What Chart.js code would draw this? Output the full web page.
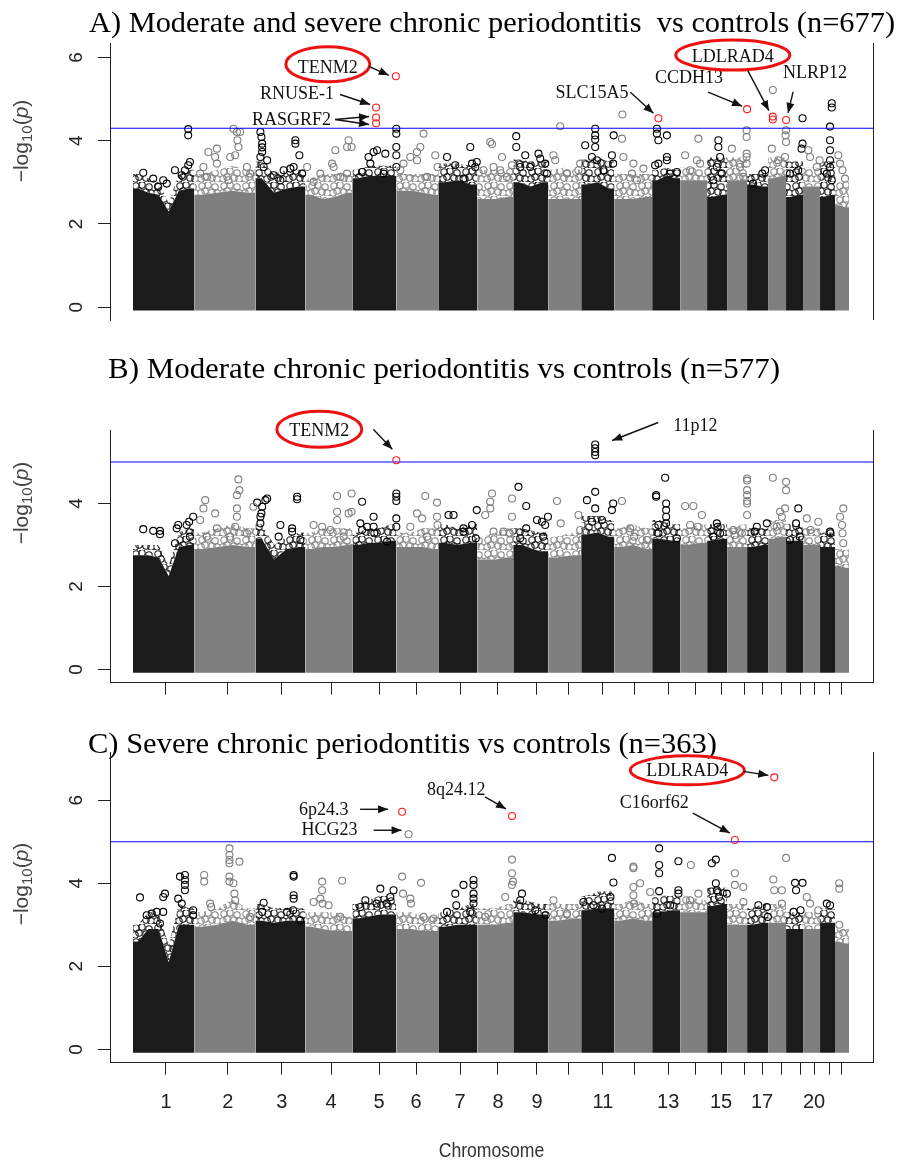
<!DOCTYPE html>
<html>
<head>
<meta charset="utf-8">
<script src="https://cdn.jsdelivr.net/npm/chart.js@4.4.1/dist/chart.umd.min.js"></script>
<style>
  html, body { margin: 0; padding: 0; background: #fff; width: 900px; height: 1161px; overflow: hidden; }
  canvas { position: absolute; left: 0; }
</style>
</head>
<body>
<canvas id="pA" width="900" height="340" style="top:0px"></canvas>
<canvas id="pB" width="900" height="360" style="top:340px"></canvas>
<canvas id="pC" width="900" height="461" style="top:700px"></canvas>
<script>
// chromosome layout (Mb spanned by SNPs) and x-axis ticks
const chromosomes = ['1','2','3','4','5','6','7','8','9','10','11','12','13','14','15','16','17','18','19','20','21','22'];
const chrSpan = [245,245,200,188,176,168,156,144,140,132,132,152,112,108,80,80,84,72,68,68,60,56];
const tickMb = [132,380,596,793,985,1133,1309,1461,1617,1745,1881,2009,2142,2250,2354,2446,2518,2594,2670,2726,2786,2834];
const tickLabels = ['1','2','3','4','5','6','7','8','9','','11','','13','','15','','17','','','20','',''];

const titles = [
  'A) Moderate and severe chronic periodontitis  vs controls (n=677)',
  'B) Moderate chronic periodontitis vs controls (n=577)',
  'C) Severe chronic periodontitis vs controls (n=363)'
];
const thresholds = [4.3, 5, 5];

// top of the solid mass of SNPs, per chromosome (-log10 p), left to right
const solidA = [[2.85,2.75,2.7,2.3,2.8,2.85],[2.7,2.75,2.8,2.75],[3.1,2.75,2.85,2.9],[2.7,2.6,2.65,2.75],
  [3.1,3.15,3.15,3.15],[2.8,2.8,2.75,2.7],[3.0,3.05,2.95],[2.6,2.6,2.65],[3.0,2.9,3.0],[2.6,2.6,2.6],
  [2.95,3.0,2.85],[2.6,2.6,2.65],[3.05,3.15,3.1],[3.05,3.05],[2.65,2.7],[3.05,3.05],[2.95,2.9],
  [3.1,3.15],[2.65,2.7],[2.9,2.9],[2.65,2.7],[2.45,2.4]];
const solidB = [[2.75,2.75,2.7,2.25,2.95,3.0],[2.9,2.95,3.0,2.95],[3.15,2.65,2.9,2.95],[2.9,2.95,2.95,3.0],
  [3.0,3.05,3.05,3.1],[2.95,2.95,2.95,2.9],[3.05,3.0,3.05],[2.65,2.65,2.7],[3.0,2.85],[2.7,2.75],
  [3.25,3.3,3.2],[2.95,3.0,2.9],[3.15,3.1],[3.0,3.05],[3.1,3.15],[2.95,2.95],[2.95,3.0],
  [3.15,3.2],[3.1,3.1],[3.0,3.0],[2.95,2.95],[2.5,2.45]];
const solidC = [[2.6,2.9,2.9,2.1,3.0,3.0],[2.95,3.0,3.1,3.0],[3.1,3.05,3.1,3.1],[2.95,2.9,2.85,2.85],
  [3.15,3.2,3.25,3.25],[2.9,2.9,2.85,2.85],[2.95,3.0,3.0],[3.0,3.0,3.05],[3.3,3.25],[3.1,3.15],
  [3.35,3.4,3.4],[3.1,3.15,3.1],[3.3,3.35],[3.3,3.3],[3.45,3.5],[3.0,3.0],[3.0,3.05],
  [3.05,3.05],[2.9,2.9],[2.9,2.9],[3.05,3.05],[2.6,2.55]];

// upper edge of the band of overlapping circles above the solid mass
const fringeA = [[3.2,3.1,3.0,2.5,3.2,3.3],[3.2,3.3,3.4,3.3],[3.5,3.2,3.3,3.3],[3.1,3.2,3.2,3.2],
  [3.3,3.4,3.4,3.4],[3.2,3.2,3.2,3.2],[3.45,3.45,3.4],[3.3,3.3,3.35],[3.55,3.5,3.5],[3.3,3.35,3.3],
  [3.55,3.6,3.5],[3.2,3.2,3.2],[3.3,3.35,3.3],[3.35,3.35],[3.6,3.6],[3.6,3.6],[3.2,3.2],
  [3.6,3.6],[3.5,3.5],[3.35,3.35],[3.5,3.5],[3.0,3.0]];
const fringeB = [[3.0,3.0,3.0,2.5,3.3,3.4],[3.3,3.4,3.5,3.4],[3.5,3.0,3.2,3.3],[3.3,3.4,3.4,3.4],
  [3.3,3.4,3.4,3.5],[3.3,3.3,3.4,3.4],[3.5,3.4,3.5],[3.2,3.3,3.4],[3.4,3.3],[3.2,3.3],
  [3.7,3.7,3.6],[3.4,3.5,3.4],[3.6,3.5],[3.4,3.5],[3.5,3.5],[3.4,3.5],[3.4,3.4],
  [3.6,3.6],[3.5,3.5],[3.4,3.4],[3.3,3.3],[2.9,2.9]];
const fringeC = [[3.0,3.3,3.3,2.5,3.5,3.4],[3.3,3.4,3.6,3.4],[3.5,3.4,3.4,3.4],[3.3,3.3,3.3,3.2],
  [3.5,3.6,3.7,3.7],[3.3,3.3,3.2,3.2],[3.3,3.4,3.5],[3.4,3.4,3.5],[3.6,3.5],[3.5,3.5],
  [3.7,3.8,3.8],[3.5,3.6,3.5],[3.7,3.7],[3.7,3.6],[3.9,3.9],[3.5,3.5],[3.4,3.5],
  [3.5,3.5],[3.3,3.3],[3.3,3.3],[3.4,3.4],[2.9,2.9]];

// single SNPs above the mass: [chromosome, position in chromosome (Mb), -log10 p]
const ptsA = [
  [1,41,3.23],[1,81,3.09],[1,101,2.89],[1,121,3.05],[1,135,2.97],[1,168,3.29],[1,195,3.17],[1,208,3.29],[1,221,3.41],[1,228,3.49],[1,221,4.13],[1,221,4.28],
  [2,24,3.21],[2,37,3.37],[2,51,3.13],[2,57,3.73],[2,84,3.61],[2,91,3.81],[2,91,3.45],[2,137,3.05],[2,144,3.61],[2,157,4.29],[2,164,3.65],[2,171,4.21],[2,173,4.01],[2,177,3.85],[2,184,4.21],[2,211,3.37],[2,224,3.21],
  [3,20,4.21],[3,24,4.09],[3,27,3.93],[3,27,3.84],[3,27,3.73],[3,20,3.61],[3,47,3.53],[3,33,3.37],[3,73,3.17],[3,100,3.05],[3,113,3.29],[3,140,3.33],[3,153,3.37],[3,160,4.01],[3,160,3.93],[3,176,3.65],[3,187,3.21],
  [4,7,3.37],[4,33,3.01],[4,60,3.21],[4,107,3.45],[4,113,3.37],[4,120,3.77],[4,140,3.13],[4,167,3.85],[4,167,3.21],[4,173,4.01],[4,185,3.85],
  [5,39,3.25],[5,65,3.61],[5,72,3.45],[5,85,3.73],[5,99,3.77],[5,125,3.21],[5,132,3.69],[5,176,4.29],[5,176,4.17],[5,176,3.85],[5,176,3.65],[5,176,3.37],
  [6,16,3.29],[6,29,3.45],[6,56,3.61],[6,83,3.73],[6,83,3.53],[6,96,3.85],[6,109,4.17],[6,123,3.13],[6,156,3.65],[6,165,3.37],
  [7,35,3.61],[7,68,3.41],[7,101,3.09],[7,128,3.85],[7,135,3.45],[7,148,3.37],[7,154,3.49],
  [8,25,3.29],[8,52,3.97],[8,59,3.92],[8,65,3.37],[8,92,3.29],[8,99,3.61],[8,119,3.13],[8,139,3.41],
  [9,12,4.11],[9,12,3.85],[9,28,3.37],[9,48,3.65],[9,68,3.37],[9,101,3.69],[9,108,3.57],[9,128,3.45],[9,135,3.21],
  [10,21,3.65],[10,28,3.53],[10,48,4.35],[10,75,3.21],[10,121,3.29],[10,128,3.45],
  [11,16,3.89],[11,43,3.61],[11,56,4.29],[11,56,4.13],[11,56,4.03],[11,56,3.85],[11,63,3.53],[11,89,3.29],[11,123,3.65],[11,128,3.45],[11,130,4.13],
  [12,31,4.05],[12,33,4.63],[12,37,3.61],[12,71,3.21],[12,77,3.45],[12,91,3.05],[12,117,3.33],
  [13,12,3.41],[13,19,4.29],[13,19,4.17],[13,25,4.01],[13,25,3.45],[13,59,4.13],[13,59,3.61],[13,59,3.53],[13,72,3.21],[13,99,3.25],
  [14,20,3.65],[14,40,3.29],[14,67,3.53],[14,73,4.05],[14,80,3.45],
  [15,25,3.05],[15,39,3.37],[15,45,4.01],[15,45,3.85],[15,52,3.61],[15,59,3.21],
  [16,19,3.81],[16,52,3.37],[16,65,3.13],[16,78,4.25],[16,78,4.09],[16,78,3.69],[16,78,3.61],[16,78,3.45],
  [17,24,2.97],[17,61,3.21],[17,72,3.29],
  [18,15,3.81],[18,19,5.22],[18,41,3.53],[18,68,3.61],[18,72,4.25],[18,72,3.97],[18,70,4.13],
  [19,16,3.21],[19,49,3.29],[19,62,3.81],[19,66,4.54],[19,66,3.93],
  [20,21,3.77],[20,28,3.61],[20,55,3.37],[20,66,3.53],
  [21,27,3.21],[21,40,4.34],[21,40,4.01],[21,40,3.77],[21,40,3.53],[21,40,3.37],[21,47,4.90],[21,47,4.80],[21,47,3.05],
  [22,13,3.65],[22,20,3.45],[22,30,3.29],[22,40,3.09]
];
const ptsB = [
  [1,41,3.38],[1,81,3.34],[1,108,3.34],[1,108,3.26],[1,168,3.04],[1,175,3.40],[1,181,3.48],[1,215,3.48],[1,225,3.56],[1,228,3.20],[1,241,3.68],
  [2,24,3.60],[2,37,3.88],[2,44,4.08],[2,50,3.20],[2,84,3.76],[2,91,3.40],[2,144,3.20],[2,164,3.44],[2,171,3.88],[2,171,4.20],[2,171,3.68],[2,177,4.58],[2,181,4.32],[2,211,3.28],[2,237,3.92],
  [3,7,4.02],[3,20,3.68],[3,20,3.52],[3,24,3.76],[3,27,3.92],[3,40,4.08],[3,47,4.12],[3,93,3.20],[3,100,3.48],[3,147,3.40],[3,147,3.32],[3,167,4.16],[3,167,4.10],[3,180,3.12],
  [4,33,3.48],[4,67,3.44],[4,100,3.36],[4,127,4.18],[4,127,3.80],[4,127,3.60],[4,153,3.20],[4,173,3.76],[4,185,4.24],[4,185,3.80],
  [5,32,3.52],[5,39,4.04],[5,39,3.36],[5,59,3.44],[5,85,3.68],[5,85,3.44],[5,88,3.28],[5,139,3.08],[5,176,4.24],[5,176,4.16],[5,176,4.06],[5,176,3.64],[5,176,3.44],
  [6,56,3.44],[6,83,3.76],[6,103,3.64],[6,116,4.18],[6,123,3.20],[6,163,4.02],[6,163,3.68],[6,165,3.48],
  [7,41,3.72],[7,61,3.72],[7,101,3.40],[7,101,3.32],[7,135,3.48],[7,150,3.16],[7,154,3.84],
  [8,32,3.72],[8,52,4.04],[8,52,3.88],[8,59,4.24],[8,65,3.32],[8,105,3.32],[8,130,3.28],[8,139,4.12],[8,139,3.68],
  [9,21,4.40],[9,28,3.16],[9,52,3.94],[9,52,3.40],[9,95,3.60],[9,115,3.56],[9,120,3.20],[9,128,3.48],[9,139,3.68],
  [10,35,4.06],[10,50,3.52],[10,121,3.72],[10,128,3.36],
  [11,23,4.08],[11,43,3.56],[11,56,4.28],[11,56,3.88],[11,56,5.16],[11,56,5.24],[11,56,5.33],[11,56,5.42],[11,83,3.60],[11,123,3.84],[11,128,4.00],
  [12,31,4.06],[12,64,3.40],[12,80,3.20],[12,131,3.12],
  [13,16,4.20],[13,16,4.16],[13,25,3.48],[13,25,3.28],[13,52,4.62],[13,56,4.00],[13,56,3.84],[13,56,3.68],[13,56,3.52],[13,99,3.16],
  [14,20,3.94],[14,40,3.48],[14,53,3.94],[14,70,3.44],[14,87,3.72],
  [15,25,3.20],[15,39,3.52],[15,42,3.44],[15,52,3.28],
  [16,25,3.36],[16,30,3.24],[16,59,3.28],[16,80,4.60],[16,80,4.55],[16,80,4.32],[16,80,4.20],[16,80,4.06],[16,80,4.00],[16,80,3.72],
  [17,30,3.32],[17,39,3.44],[17,79,3.52],
  [18,19,4.62],[18,35,3.44],[18,48,3.80],[18,55,3.68],[18,68,3.88],[18,72,4.52],[18,72,4.32],
  [19,16,3.12],[19,40,3.52],[19,49,3.88],[19,55,3.20],
  [20,15,3.64],[20,30,3.36],[20,61,3.56],
  [21,40,3.32],[21,42,3.28],
  [22,20,3.68],[22,28,3.48],[22,33,3.88],[22,30,3.28],[22,33,3.04]
];
const ptsC = [
  [1,28,3.66],[1,55,3.23],[1,75,3.27],[1,95,3.31],[1,108,3.03],[1,121,3.31],[1,121,3.67],[1,128,3.75],[1,181,3.63],[1,188,4.16],[1,195,3.51],[1,208,4.20],[1,208,4.08],[1,208,3.96],[1,208,3.83],[1,241,3.35],[1,241,3.23],
  [2,40,4.20],[2,40,4.04],[2,64,3.51],[2,68,3.43],[2,141,4.84],[2,141,4.68],[2,141,4.56],[2,141,4.48],[2,141,4.16],[2,141,4.04],[2,157,4.00],[2,161,3.75],[2,164,3.59],[2,181,4.52],[2,224,3.19],
  [3,27,3.31],[3,33,3.53],[3,127,3.31],[3,153,4.20],[3,153,4.16],[3,153,3.71],[3,153,3.63],[3,151,3.35],[3,180,3.11],
  [4,33,3.55],[4,60,3.63],[4,67,4.04],[4,67,3.83],[4,69,3.51],[4,93,3.47],[4,140,3.19],[4,147,4.06],
  [5,32,3.43],[5,52,3.59],[5,97,3.51],[5,112,3.87],[5,137,3.51],[5,152,3.67],[5,165,3.83],
  [6,23,4.16],[6,27,3.75],[6,49,5.18],[6,56,3.63],[6,59,3.51],[6,99,4.01],[6,109,3.19],[6,149,3.15],
  [7,35,3.31],[7,68,3.75],[7,72,3.47],[7,101,3.96],[7,128,3.31],[7,141,4.08],[7,141,3.96],[7,141,3.75],[7,141,3.63],[7,141,3.51],
  [8,32,3.19],[8,112,3.67],[8,139,4.57],[8,139,4.24],[8,139,3.96],[8,143,4.04],
  [9,28,3.59],[9,35,3.75],[9,88,3.35],[9,130,3.23],
  [10,21,3.59],[10,75,3.27],
  [11,9,3.55],[11,49,3.47],[11,83,3.39],[11,117,3.67],[11,123,4.61],[11,129,4.02],
  [12,77,4.40],[12,77,4.36],[12,77,3.91],[12,77,3.71],[12,80,3.51],[12,104,4.00],[12,144,3.79],
  [13,20,3.27],[13,28,4.84],[13,28,4.44],[13,28,4.24],[13,28,3.81],[13,72,3.47],[13,105,4.53],[13,105,3.83],[13,105,3.75],
  [14,40,3.59],[14,43,4.44],[14,73,3.75],
  [15,19,4.48],[15,35,4.57],[15,35,4.00],[15,39,3.83],[15,48,3.67],[15,79,3.75],
  [16,31,4.24],[16,31,3.96],[16,65,3.91],[16,65,3.55],
  [17,45,3.47],[17,79,3.43],[17,83,3.19],
  [18,21,4.09],[18,25,3.83],[18,55,3.83],[18,55,3.51],[18,72,4.61],
  [19,30,3.31],[19,36,4.01],[19,40,3.83],[19,58,3.35],[19,66,4.01],
  [20,15,3.67],[20,28,3.51],[20,61,3.35],
  [21,27,3.51],[21,40,3.47],
  [22,17,4.00],[22,17,3.87],[22,17,3.0]
];

// highlighted SNPs (red circles)
const hitsA = [[5,174,5.55],[5,95,4.80],[5,95,4.56],[5,95,4.42],[13,25,4.54],[16,80,4.76],[18,19,4.58],[18,19,4.51],[19,0,4.50]];
const hitsB = [[5,176,5.04]];
const hitsC = [[6,23,5.72],[8,139,5.62],[16,31,5.04],[18,25,6.55]];

const X_MIN = -92, X_MAX = 2962;
const BLACK = '#1b1b1b', GRAY = '#7f7f7f';

const chrStart = [];
{ let s = 0; chrSpan.forEach(w => { chrStart.push(s); s += w; }); }
const toXY = p => ({ x: chrStart[p[0] - 1] + p[1], y: p[2] });

function profile(t, i) {
  const s = chrStart[i], w = chrSpan[i], n = t.length;
  const pts = [{ x: s, y: t[0] }];
  t.forEach((v, k) => pts.push({ x: s + w * (k + 0.5) / n, y: v }));
  pts.push({ x: s + w, y: t[n - 1] });
  return pts;
}

// texture of overlapping open circles, used for the ragged band above the solid mass
function ringPattern(color) {
  const c = document.createElement('canvas'); c.width = 22; c.height = 14;
  const g = c.getContext('2d'); g.strokeStyle = color; g.lineWidth = 1.1;
  [[4, 4], [10, 3], [17, 5], [7, 9], [14, 10], [19, 11], [3, 11]].forEach(([x, y]) => {
    g.beginPath(); g.arc(x, y, 3.2, 0, Math.PI * 2); g.stroke();
  });
  return g.createPattern(c, 'repeat');
}

function makeDatasets(p) {
  const ds = [];
  const patB = ringPattern('#1b1b1b'), patG = ringPattern('#858585');
  p.solid.forEach((t, i) => {
    ds.push({ type: 'line', data: profile(t, i), backgroundColor: i % 2 ? GRAY : BLACK, borderColor: 'transparent',
      borderWidth: 0, pointRadius: 0, fill: { value: -0.08 }, order: 6 });
    ds.push({ type: 'line', data: profile(p.fringe[i], i), backgroundColor: i % 2 ? patG : patB, borderColor: 'transparent',
      borderWidth: 0, pointRadius: 0, fill: '-1', order: 6 });
  });
  const circ = (data, color, order) => ({
    data, showLine: false, pointStyle: 'circle', pointRadius: 3.5, pointBorderWidth: 1.1,
    pointBorderColor: color, pointBackgroundColor: 'rgba(0,0,0,0)', order
  });
  ds.push(circ(p.pts.filter(q => q[0] % 2 === 1).map(toXY), '#000', 4));
  ds.push(circ(p.pts.filter(q => q[0] % 2 === 0).map(toXY), '#808080', 3));
  ds.push({ type: 'line', data: [{ x: X_MIN, y: p.thr }, { x: X_MAX, y: p.thr }],
    borderColor: '#0000ff', borderWidth: 1.1, pointRadius: 0, fill: false, order: 2 });
  ds.push(circ(p.hits.map(toXY), '#ff1a1a', 1));
  return ds;
}

function arrow(ctx, x1, y1, x2, y2) {
  ctx.beginPath(); ctx.moveTo(x1, y1); ctx.lineTo(x2, y2); ctx.stroke();
  const a = Math.atan2(y2 - y1, x2 - x1), L = 10, W = 4;
  ctx.beginPath(); ctx.moveTo(x2, y2);
  ctx.lineTo(x2 - L * Math.cos(a) + W * Math.sin(a), y2 - L * Math.sin(a) - W * Math.cos(a));
  ctx.lineTo(x2 - L * Math.cos(a) - W * Math.sin(a), y2 - L * Math.sin(a) + W * Math.cos(a));
  ctx.closePath(); ctx.fill();
}

function fitText(ctx, s, x, y, w) {
  const m = ctx.measureText(s).width;
  ctx.save(); ctx.translate(x, y); ctx.scale(w / m, 1); ctx.fillText(s, 0, 0); ctx.restore();
}

function yTitle(ctx, cx, cy) {
  ctx.save(); ctx.translate(cx, cy); ctx.rotate(-Math.PI / 2);
  ctx.fillStyle = '#444'; ctx.textAlign = 'left'; ctx.textBaseline = 'alphabetic';
  const f1 = '21px "Liberation Sans"', f2 = '15px "Liberation Sans"', f3 = 'italic 21px "Liberation Sans"';
  const parts = [['\u2212log', f1, 0], ['10', f2, 4], ['(', f1, 0], ['p', f3, 0], [')', f1, 0]];
  let w = 0;
  parts.forEach(q => { ctx.font = q[1]; w += ctx.measureText(q[0]).width; });
  let x = -w / 2;
  parts.forEach(q => { ctx.font = q[1]; ctx.fillText(q[0], x, 6 + q[2]); x += ctx.measureText(q[0]).width; });
  ctx.restore();
}

function makeDecor(p) {
  return {
    id: 'decor',
    afterDraw(chart) {
      const ctx = chart.ctx, ca = chart.chartArea, xs = chart.scales.x, ys = chart.scales.y;
      ctx.save();
      // right frame line
      ctx.strokeStyle = '#222'; ctx.lineWidth = 1;
      ctx.beginPath(); ctx.moveTo(ca.right + 0.5, ca.top); ctx.lineTo(ca.right + 0.5, ca.bottom); ctx.stroke();
      // title
      ctx.fillStyle = '#000'; ctx.font = '29px "Liberation Serif"'; ctx.textBaseline = 'alphabetic'; ctx.textAlign = 'left';
      fitText(ctx, p.title, p.titlePos[0], p.titlePos[1], p.titlePos[2]);
      // y tick labels (rotated, R style)
      ctx.fillStyle = '#222'; ctx.font = '19px "Liberation Sans"'; ctx.textAlign = 'center';
      ys.ticks.forEach(t => {
        const py = ys.getPixelForValue(t.value);
        ctx.save(); ctx.translate(75, py); ctx.rotate(-Math.PI / 2); ctx.fillText(String(t.value), 0, 7); ctx.restore();
      });
      yTitle(ctx, 22, p.yTitleY);
      // x tick labels + axis title
      if (p.xLabels) {
        ctx.fillStyle = '#222'; ctx.font = '20px "Liberation Sans"'; ctx.textAlign = 'center';
        tickMb.forEach((v, i) => {
          if (tickLabels[i]) ctx.fillText(tickLabels[i], xs.getPixelForValue(v), ca.bottom + 45.5);
        });
        ctx.fillStyle = '#333'; ctx.font = '20px "Liberation Sans"';
        ctx.save(); ctx.translate((ca.left + ca.right) / 2, ca.bottom + 94); ctx.scale(0.88, 1);
        ctx.fillText('Chromosome', 0, 0); ctx.restore();
      }
      // annotations
      ctx.font = '18px "Liberation Serif"'; ctx.textBaseline = 'alphabetic';
      p.notes.forEach(n => {
        const q = toXY(n.at);
        const px = xs.getPixelForValue(q.x), py = ys.getPixelForValue(q.y);
        if (n.ell) {
          ctx.strokeStyle = '#ee1111'; ctx.lineWidth = 3;
          ctx.beginPath(); ctx.ellipse(px + n.ell[0], py + n.ell[1], n.ell[2], n.ell[3], 0, 0, Math.PI * 2); ctx.stroke();
        }
        ctx.fillStyle = '#111'; ctx.textAlign = n.t[2];
        ctx.fillText(n.label, px + n.t[0], py + n.t[1]);
        ctx.strokeStyle = '#111'; ctx.lineWidth = 1.4;
        n.arr.forEach(a => arrow(ctx, px + a[0], py + a[1], px + a[2], py + a[3]));
      });
      ctx.restore();
    }
  };
}

const notesA = [
  { label: 'TENM2', at: hitsA[0], t: [-68, -3.3, 'center'], ell: [-68, -12, 42, 17.5], arr: [[-27, -10, -7, -1]] },
  { label: 'RNUSE-1', at: hitsA[1], t: [-116, -8, 'left'], arr: [[-36, -13, -6, -3]] },
  { label: 'RASGRF2', at: hitsA[2], t: [-124, 8, 'left'], arr: [[-41, 2, -7, -1], [-41, 2, -7, 7]] },
  { label: 'SLC15A5', at: hitsA[4], t: [-103, -20, 'left'], arr: [[-28, -26, -5, -5]] },
  { label: 'CCDH13', at: hitsA[5], t: [-92, -26, 'left'], arr: [[-39, -17, -5, -3]] },
  { label: 'LDLRAD4', at: hitsA[6], t: [-40, -54.5, 'center'], ell: [-40, -61.5, 57, 15], arr: [[-25, -46, -4, -6]] },
  { label: 'NLRP12', at: hitsA[8], t: [-3, -42, 'left'], arr: [[7, -28, 2, -7]] }
];
const notesB = [
  { label: 'TENM2', at: hitsB[0], t: [-77, -24, 'center'], ell: [-77, -31, 42.5, 18], arr: [[-23, -31, -4, -11]] },
  { label: '11p12', at: [11, 56, 5.42], t: [78, -14, 'left'], arr: [[63, -22, 17, -4]] }
];
const notesC = [
  { label: '6p24.3', at: hitsC[0], t: [-103, 3.5, 'left'], arr: [[-42, -2.5, -14, -2.5]] },
  { label: 'HCG23', at: [6, 49, 5.18], t: [-107, 1, 'left'], arr: [[-35, -4, -7, -4]] },
  { label: '8q24.12', at: hitsC[1], t: [-85, -21, 'left'], arr: [[-27, -19, -6, -7]] },
  { label: 'LDLRAD4', at: hitsC[3], t: [-87, -1, 'center'], ell: [-87, -7, 57, 14.5], arr: [[-31, -6, -6, -2]] },
  { label: 'C16orf62', at: hitsC[2], t: [-115, -32, 'left'], arr: [[-42, -27, -5, -7]] }
];

const panels = [
  { id: 'pA', title: titles[0], solid: solidA, fringe: fringeA, pts: ptsA, hits: hitsA, thr: thresholds[0], yMin: -0.31, yMax: 6.35,
    pad: { left: 96, right: 27, top: 43, bottom: 20 }, xAxis: false, xLabels: false, titlePos: [89, 32, 806], yTitleY: 141, notes: notesA },
  { id: 'pB', title: titles[1], solid: solidB, fringe: fringeB, pts: ptsB, hits: hitsB, thr: thresholds[1], yMin: -0.32, yMax: 5.77,
    pad: { left: 96, right: 27, top: 90, bottom: 3.3 }, xAxis: true, xLabels: false, titlePos: [108, 38, 672], yTitleY: 163, notes: notesB },
  { id: 'pC', title: titles[2], solid: solidC, fringe: fringeC, pts: ptsC, hits: hitsC, thr: thresholds[2], yMin: -0.32, yMax: 7.16,
    pad: { left: 96, right: 27, top: 52, bottom: 84.3 }, xAxis: true, xLabels: true, titlePos: [88, 52.7, 629], yTitleY: 184, notes: notesC }
];

panels.forEach(p => {
  new Chart(document.getElementById(p.id), {
    type: 'scatter',
    data: { datasets: makeDatasets(p) },
    options: {
      responsive: false, animation: false, devicePixelRatio: 1, events: [],
      layout: { padding: p.pad, autoPadding: false },
      plugins: { legend: { display: false }, tooltip: { enabled: false }, title: { display: false } },
      scales: {
        x: {
          type: 'linear', min: X_MIN, max: X_MAX, display: p.xAxis,
          afterBuildTicks: s => { s.ticks = tickMb.map(v => ({ value: v })); },
          afterFit: s => { s.height = p.xAxis ? 14 : 0; },
          ticks: { display: false },
          grid: { drawOnChartArea: false, drawTicks: true, tickLength: 12, color: '#222', lineWidth: 1 },
          border: { display: true, color: '#222', width: 1 }
        },
        y: {
          type: 'linear', min: p.yMin, max: p.yMax,
          afterFit: s => { s.width = 14; },
          ticks: { display: false, stepSize: 2, includeBounds: false },
          grid: { drawOnChartArea: false, drawTicks: true, tickLength: 12, color: '#222', lineWidth: 1 },
          border: { display: true, color: '#222', width: 1 }
        }
      }
    },
    plugins: [makeDecor(p)]
  });
});
</script>
</body>
</html>
